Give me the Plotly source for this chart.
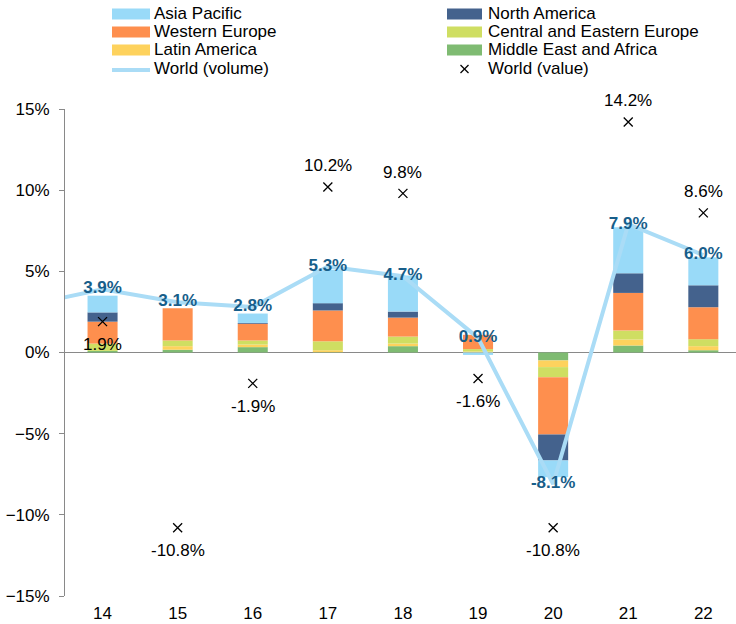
import plotly.graph_objects as go

years = [14, 15, 16, 17, 18, 19, 20, 21, 22]
year_labels = ["14", "15", "16", "17", "18", "19", "20", "21", "22"]

asia_pacific = [1.03, 0.0, 0.58, 2.05, 2.22, -0.15, -1.03, 2.83, 1.72]
north_america = [0.57, 0.0, 0.05, 0.45, 0.37, 0.0, -1.60, 1.21, 1.35]
western_europe = [1.35, 1.99, 1.03, 1.90, 1.17, 0.88, -3.53, 2.32, 1.97]
central_eastern_europe = [0.45, 0.35, 0.25, 0.55, 0.43, 0.15, -0.62, 0.55, 0.43]
latin_america = [0.0, 0.22, 0.16, 0.12, 0.16, 0.06, -0.41, 0.37, 0.25]
middle_east_africa = [0.10, 0.17, 0.33, 0.02, 0.39, 0.0, -0.49, 0.43, 0.14]

volume_years = [13, 14, 15, 16, 17, 18, 19, 20, 21, 22]
world_volume = [2.9, 3.9, 3.1, 2.8, 5.3, 4.7, 0.9, -8.1, 7.9, 6.0]
world_value = [1.9, -10.8, -1.9, 10.2, 9.8, -1.6, -10.8, 14.2, 8.6]

FONT = "Liberation Sans, Arial, sans-serif"
AXIS = "#898989"
VOL_COLOR = "#aadcf6"

W, H = 736, 624
ML, MR, MT, MB = 65, 0, 109, 28
PW, PH = W - ML - MR, H - MT - MB


def px_x(px):
    return (px - ML) / PW


def px_y(py):
    return (H - MB - py) / PH


fig = go.Figure()

stack = [
    ("Middle East and Africa", middle_east_africa, "#7fbb72"),
    ("Latin America", latin_america, "#fed25d"),
    ("Central and Eastern Europe", central_eastern_europe, "#cfde62"),
    ("Western Europe", western_europe, "#fe8f4e"),
    ("North America", north_america, "#44628d"),
    ("Asia Pacific", asia_pacific, "#99daf8"),
]
colors = {}
for name, vals, color in stack:
    colors[name] = color
    fig.add_trace(go.Bar(
        x=years, y=vals, name=name, marker=dict(color=color, line=dict(width=0)),
        width=0.4, hoverinfo="skip",
    ))

vol_text = ["" if y == 13 else f"{v:.1f}%" for y, v in zip(volume_years, world_volume)]
fig.add_trace(go.Scatter(
    x=volume_years, y=world_volume, name="World (volume)", mode="lines+text",
    line=dict(color=VOL_COLOR, width=4), text=vol_text, textposition="middle center",
    textfont=dict(family=FONT, size=17, color="#175e8a", weight="bold"),
    hoverinfo="skip", cliponaxis=False,
))

fig.add_trace(go.Scatter(
    x=years, y=world_value, name="World (value)", mode="markers",
    marker=dict(symbol="x-thin", size=9, color="black", line=dict(color="black", width=1.3)),
    hoverinfo="skip",
))

for x, v in zip(years, world_value):
    above = v > 5
    fig.add_annotation(
        x=x, y=v, text=f"{v:.1f}%", showarrow=False,
        yshift=21 if above else -23,
        font=dict(family=FONT, size=17, color="black"),
    )

# manual legend (two columns, wide swatches)
legend_items = [
    ("Asia Pacific", "bar", 0, 0),
    ("North America", "bar", 1, 0),
    ("Western Europe", "bar", 0, 1),
    ("Central and Eastern Europe", "bar", 1, 1),
    ("Latin America", "bar", 0, 2),
    ("Middle East and Africa", "bar", 1, 2),
    ("World (volume)", "line", 0, 3),
    ("World (value)", "x", 1, 3),
]
col_swatch = [(112, 150), (447, 482)]
col_text = [152, 486]
row_y = [14, 32, 50, 69]
for name, kind, c, r in legend_items:
    x0, x1 = col_swatch[c]
    yc = row_y[r]
    if kind == "bar":
        fig.add_shape(type="rect", xref="paper", yref="paper",
                      x0=px_x(x0), x1=px_x(x1), y0=px_y(yc - 5.5), y1=px_y(yc + 5.5),
                      fillcolor=colors[name], line=dict(width=0), layer="above")
    elif kind == "line":
        fig.add_shape(type="line", xref="paper", yref="paper",
                      x0=px_x(x0), x1=px_x(x1), y0=px_y(yc + 1), y1=px_y(yc + 1),
                      line=dict(color=VOL_COLOR, width=4), layer="above")
    else:
        xm = (x0 + x1) / 2
        for s in (1, -1):
            fig.add_shape(type="line", xref="paper", yref="paper",
                          x0=px_x(xm - 4), x1=px_x(xm + 4),
                          y0=px_y(yc - 4 * s), y1=px_y(yc + 4 * s),
                          line=dict(color="black", width=1.2), layer="above")
    fig.add_annotation(
        xref="paper", yref="paper", x=px_x(col_text[c]), y=px_y(yc),
        xanchor="left", yanchor="middle", text=name, showarrow=False,
        font=dict(family=FONT, size=17, color="black"),
    )

fig.update_layout(
    width=W, height=H,
    margin=dict(l=ML, r=MR, t=MT, b=MB, autoexpand=False),
    paper_bgcolor="white", plot_bgcolor="white",
    barmode="relative",
    font=dict(family=FONT, size=17, color="black"),
    showlegend=False,
    xaxis=dict(
        range=[13.5, 22.435], tickvals=years, ticktext=year_labels,
        showline=False, ticks="", showgrid=False, zeroline=False,
        ticklabelstandoff=5, tickfont=dict(family=FONT, size=17, color="black"),
    ),
    xaxis2=dict(
        overlaying="x", anchor="free", position=0.5, range=[13.5, 22.435],
        tickvals=[14.5, 15.5, 16.5, 17.5, 18.5, 19.5, 20.5, 21.5],
        showticklabels=False, showline=True, linecolor=AXIS, linewidth=1,
        ticks="outside", ticklen=5, tickcolor=AXIS, showgrid=False, zeroline=False,
    ),
    yaxis=dict(
        range=[-15, 15], dtick=5, ticksuffix="%", showline=True, linecolor=AXIS,
        linewidth=1, ticks="outside", ticklen=5, tickcolor=AXIS, showgrid=False,
        zeroline=True, zerolinecolor=AXIS, zerolinewidth=1,
        ticklabelstandoff=6, tickfont=dict(family=FONT, size=17, color="black"),
    ),
)

fig.write_html(
    "out.html",
    config={"displayModeBar": False, "staticPlot": True},
    post_script="document.body.style.margin='0px';",
)
